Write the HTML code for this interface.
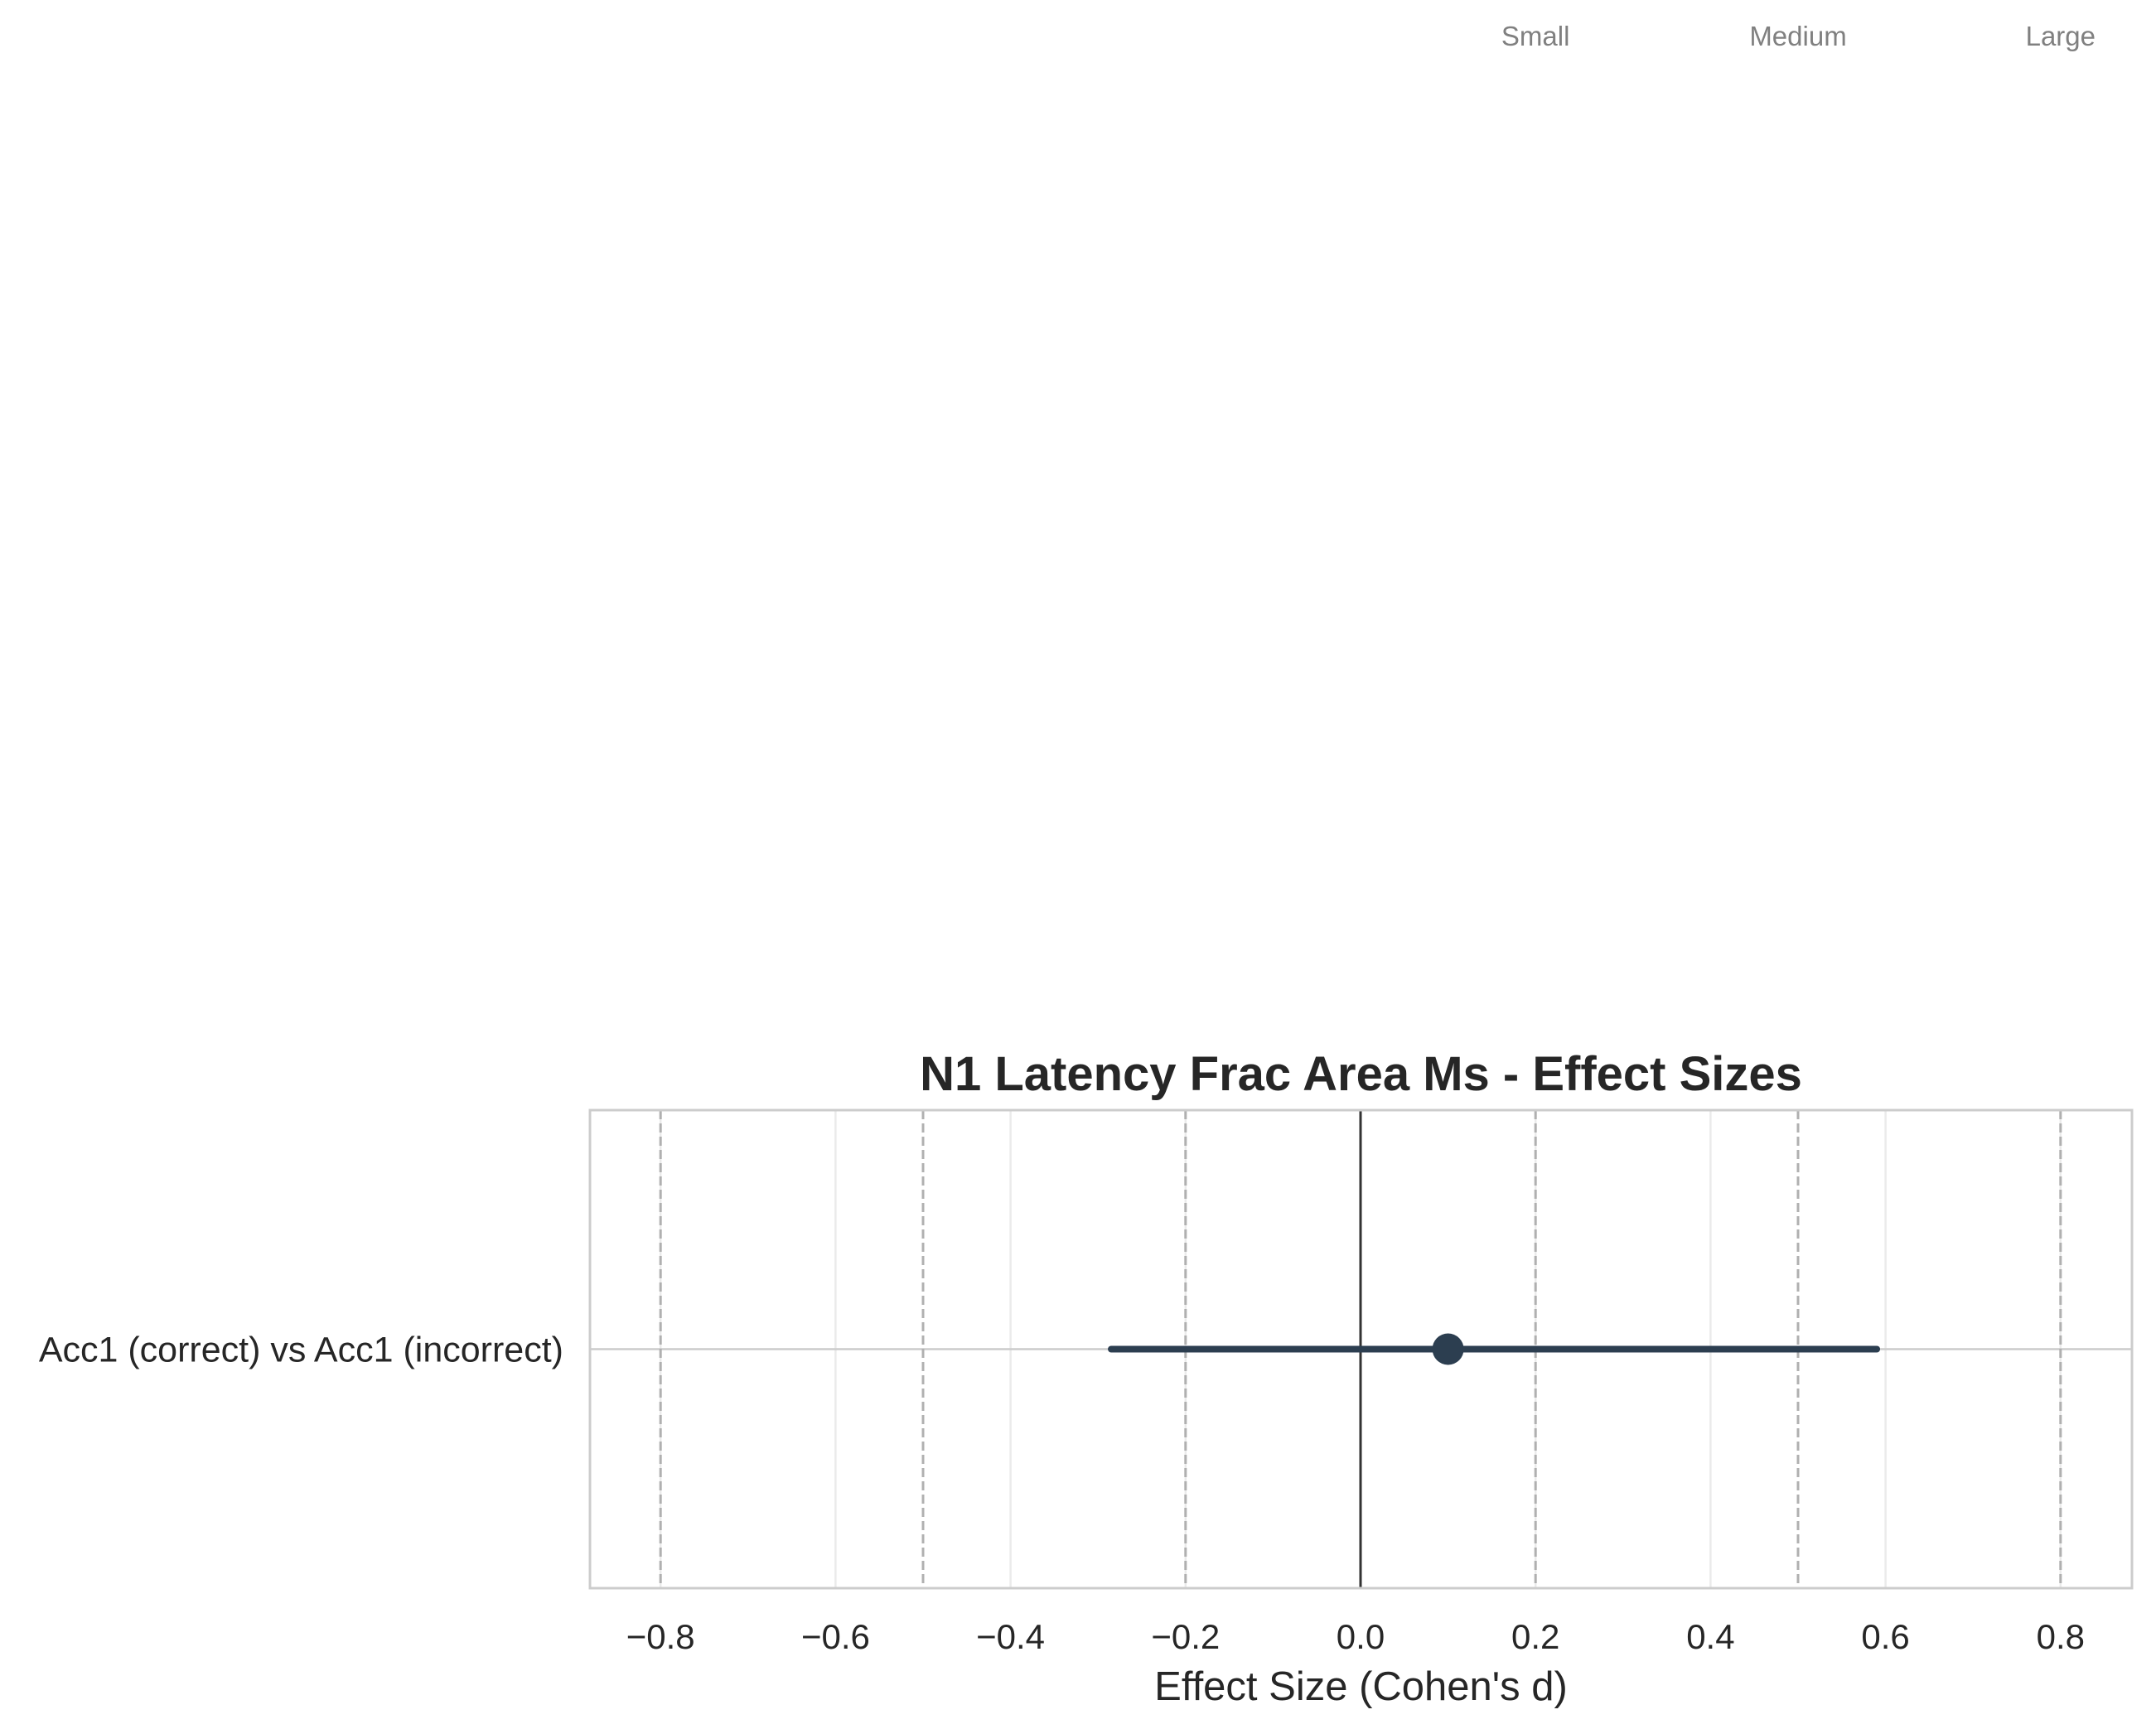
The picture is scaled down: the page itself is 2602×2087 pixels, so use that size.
<!DOCTYPE html>
<html><head><meta charset="utf-8"><style>
html,body{margin:0;padding:0;background:#fff;}
svg{display:block;font-family:"Liberation Sans",Arial,sans-serif;}
</style></head><body>
<svg id="chart" width="2602" height="2087" viewBox="0 0 2602 2087">
<g id="g"></g>
</svg>
<script>
const categories = ["Acc1 (correct) vs Acc1 (incorrect)"];
const effects = [0.1];
const ciLow = [-0.285];
const ciHigh = [0.59];
const tickValues = [-0.8,-0.6,-0.4,-0.2,0.0,0.2,0.4,0.6,0.8];
const tickLabels = ["\u22120.8","\u22120.6","\u22120.4","\u22120.2","0.0","0.2","0.4","0.6","0.8"];
const thresholds = [-0.8,-0.5,-0.2,0.2,0.5,0.8];
const thresholdNames = ["Small","Medium","Large"];
const thresholdNameValues = [0.2,0.5,0.8];

const L=712,R=2573,T=1340,B=1917;
const x0=1642, pxPer=1056;
function X(v){return x0+v*pxPer;}
function Y(i){return T+(B-T)*(i+0.5)/categories.length;}
const NS="http://www.w3.org/2000/svg";
const g=document.getElementById('g');
function mk(t,a,txt){const e=document.createElementNS(NS,t);for(const k in a)e.setAttribute(k,a[k]);if(txt!==undefined)e.textContent=txt;g.appendChild(e);return e;}

mk('rect',{x:L,y:T,width:R-L,height:B-T,fill:'#fff'});
tickValues.forEach((v,i)=>{
  const gl=mk('line',{x1:X(v),x2:X(v),y1:T,y2:B,stroke:'#ebebeb','stroke-width':2.5});
  
  
  const t=mk('text',{x:X(v),y:1990,'font-size':42,fill:'#262626','text-anchor':'middle'},tickLabels[i]);
  
  
});
categories.forEach((c,i)=>{
  const hl=mk('line',{x1:L,x2:R,y1:Y(i),y2:Y(i),stroke:'#cccccc','stroke-width':2.5});
  
  
});
thresholds.forEach(v=>{
  const d=mk('line',{x1:X(v),x2:X(v),y1:T,y2:B,stroke:'#b0b0b0','stroke-width':3,'stroke-dasharray':'11,5'});
  
  
});
const z=mk('line',{x1:X(0),x2:X(0),y1:T,y2:B,stroke:'#333','stroke-width':3});


categories.forEach((c,i)=>{
  const ci=mk('line',{x1:X(ciLow[i]),x2:X(ciHigh[i]),y1:Y(i),y2:Y(i),stroke:'#2c3e50','stroke-width':8,'stroke-linecap':'round'});
  
  
  const p=mk('circle',{cx:X(effects[i]),cy:Y(i),r:19,fill:'#2c3e50'});
  
  
  const yl=mk('text',{x:680,y:Y(i)+15,'font-size':43,fill:'#262626','text-anchor':'end'},c);
  
  
});
thresholdNames.forEach((n,i)=>{
  const t=mk('text',{x:X(thresholdNameValues[i]),y:55,'font-size':33,fill:'#808080','text-anchor':'middle'},n);
  
  
});
const fr=mk('rect',{x:L,y:T,width:R-L,height:B-T,fill:'none',stroke:'#cccccc','stroke-width':3});


const ti=mk('text',{x:(L+R)/2,y:1316,'font-size':58,'font-weight':'bold',fill:'#262626','text-anchor':'middle'},"N1 Latency Frac Area Ms - Effect Sizes");


const xl=mk('text',{x:(L+R)/2,y:2052,'font-size':49,fill:'#262626','text-anchor':'middle'},"Effect Size (Cohen's d)");


</script>
</body></html>
